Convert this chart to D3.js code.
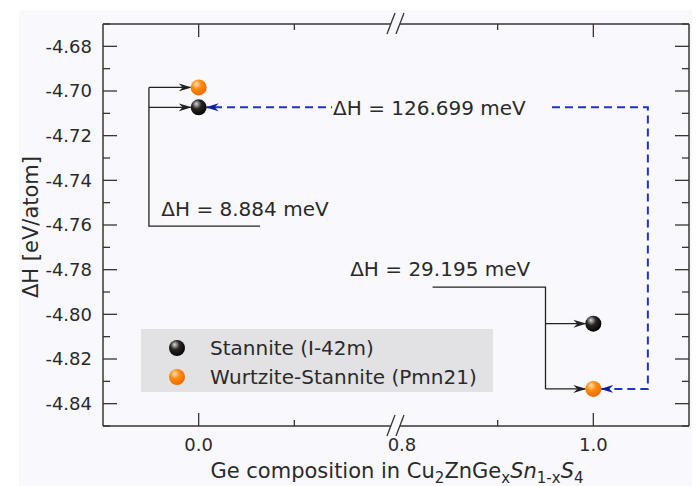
<!DOCTYPE html>
<html>
<head>
<script src="https://cdn.jsdelivr.net/npm/d3@7"></script>
<style>
  body { margin: 0; padding: 0; background: #fff; }
  svg { display: block; font-family: "DejaVu Sans", sans-serif; }
</style>
</head>
<body>
<div id="viz"></div>
<script>

// compositions and formation enthalpies (eV/atom)
var compositions = [0.0, 1.0];
var stannite = [-4.7073, -4.8042];
var wurtzite = [-4.6984, -4.8334];

var xTickLabels = [0.0, 0.8, 1.0];
var xMajor = [0.0, 1.0];
var xMinor = [0.1, 0.9];
var yMajor = [-4.84, -4.82, -4.80, -4.78, -4.76, -4.74, -4.72, -4.70, -4.68];
var yMinor = [-4.85, -4.83, -4.81, -4.79, -4.77, -4.75, -4.73, -4.71, -4.69, -4.67];

var legendNames = ["Stannite (I-42m)", "Wurtzite-Stannite (Pmn21)"];
var dH = ["8.884", "29.195", "126.699"];

var W = 698, H = 486;
// note: plain "top" clashes with window.top
var pL = 103, pR = 689, pT = 24, pB = 426;

// broken x axis: [-0.1, 0.2] // [0.8, 1.1]
var x = d3.scaleLinear().domain([-0.1, 0.2, 0.8, 1.1]).range([pL, 390, 402, pR]);
var y = d3.scaleLinear().domain([-4.85, -4.67]).range([pB, pT]);

var svg = d3.select('#viz').append('svg')
  .attr('width', W).attr('height', H);

var defs = svg.append('defs');

function sphere(id, c0, c1, c2) {
  var g = defs.append('radialGradient').attr('id', id)
    .attr('cx', '40%').attr('cy', '35%').attr('r', '65%').attr('fx', '35%').attr('fy', '28%');
  g.append('stop').attr('offset', '0%').attr('stop-color', c0);
  g.append('stop').attr('offset', '45%').attr('stop-color', c1);
  g.append('stop').attr('offset', '100%').attr('stop-color', c2);
}
sphere('gBlack', '#d8d8d8', '#2a2524', '#050404');
sphere('gOrange', '#ffe2b8', '#ff8c10', '#ec6a00');

function arrowHead(id, color) {
  defs.append('marker').attr('id', id)
    .attr('viewBox', '0 0 13 9').attr('refX', 12).attr('refY', 4.5)
    .attr('markerWidth', 13).attr('markerHeight', 9)
    .attr('markerUnits', 'userSpaceOnUse')
    .attr('orient', 'auto-start-reverse')
    .append('path').attr('d', 'M0,0.5 L13,4.5 L0,8.5 L4,4.5 Z').attr('fill', color);
}
arrowHead('aBlack', '#222');
arrowHead('aBlue', '#0b1fa0');

// panel background
svg.append('rect').attr('x', 19).attr('y', 10).attr('width', 673).attr('height', 476)
  .attr('fill', '#f9f9fd');

var axisColor = '#3a3434';

// frame with breaks
var gap = [391, 400];
[pT, pB].forEach(function(yy) {
  svg.append('line').attr('x1', pL).attr('x2', gap[0]).attr('y1', yy).attr('y2', yy)
    .attr('stroke', axisColor).attr('stroke-width', 1.5);
  svg.append('line').attr('x1', gap[1]).attr('x2', pR).attr('y1', yy).attr('y2', yy)
    .attr('stroke', axisColor).attr('stroke-width', 1.5);
  gap.forEach(function(gx) {
    svg.append('line').attr('x1', gx - 4).attr('y1', yy + 10).attr('x2', gx + 4).attr('y2', yy - 11)
      .attr('stroke', axisColor).attr('stroke-width', 1.3);
  });
});
[pL, pR].forEach(function(xx) {
  svg.append('line').attr('x1', xx).attr('x2', xx).attr('y1', pT).attr('y2', pB)
    .attr('stroke', axisColor).attr('stroke-width', 1.5);
});

// y ticks (inward both sides)
function yTicks(vals, len) {
  vals.forEach(function(v) {
    svg.append('line').attr('x1', pL).attr('x2', pL + len).attr('y1', y(v)).attr('y2', y(v))
      .attr('stroke', axisColor).attr('stroke-width', 1.3);
    svg.append('line').attr('x1', pR).attr('x2', pR - len).attr('y1', y(v)).attr('y2', y(v))
      .attr('stroke', axisColor).attr('stroke-width', 1.3);
  });
}
yTicks(yMajor, 14);
yTicks(yMinor, 7);

function xTicks(vals, len) {
  vals.forEach(function(v) {
    svg.append('line').attr('x1', x(v)).attr('x2', x(v)).attr('y1', pB).attr('y2', pB - len)
      .attr('stroke', axisColor).attr('stroke-width', 1.3);
    svg.append('line').attr('x1', x(v)).attr('x2', x(v)).attr('y1', pT).attr('y2', pT + len)
      .attr('stroke', axisColor).attr('stroke-width', 1.3);
  });
}
xTicks(xMajor, 13);
xTicks(xMinor, 6);

svg.selectAll('text.ylab').data(yMajor).enter().append('text')
  .attr('class', 'ylab')
  .attr('x', 92).attr('y', function(d) { return y(d); }).attr('dy', '0.36em')
  .attr('text-anchor', 'end').attr('font-size', 18).attr('fill', '#2a2a2a')
  .text(function(d) { return d.toFixed(2); });

svg.selectAll('text.xlab').data(xTickLabels).enter().append('text')
  .attr('class', 'xlab')
  .attr('x', function(d) { return x(d); }).attr('y', 451)
  .attr('text-anchor', 'middle').attr('font-size', 18).attr('fill', '#2a2a2a')
  .text(function(d) { return d.toFixed(1); });

// axis titles
svg.append('text')
  .attr('transform', 'translate(38,' + 227 + ') rotate(-90)')
  .attr('text-anchor', 'middle').attr('font-size', 21).attr('fill', '#2a2a2a')
  .text('\u0394H [eV/atom]');

var xt = svg.append('text').attr('x', 397).attr('y', 478)
  .attr('text-anchor', 'middle').attr('font-size', 21).attr('fill', '#2a2a2a');
xt.append('tspan').text('Ge composition in Cu');
xt.append('tspan').attr('font-size', 15).attr('dy', 5).text('2');
xt.append('tspan').attr('dy', -5).text('ZnGe');
xt.append('tspan').attr('font-size', 15).attr('dy', 5).text('x');
xt.append('tspan').attr('dy', -5).attr('font-style', 'italic').text('Sn');
xt.append('tspan').attr('font-size', 15).attr('dy', 5).text('1-x');
xt.append('tspan').attr('dy', -5).attr('font-style', 'italic').text('S');
xt.append('tspan').attr('font-size', 15).attr('dy', 5).text('4');

var ink = '#222';
var r = 8;

// left bracket: 8.884 meV at x = 0
var bx0 = x(-0.052);
svg.append('path')
  .attr('d', 'M' + x(0.064) + ',' + y(-4.7605) + 'H' + bx0 + 'V' + y(wurtzite[0]))
  .attr('fill', 'none').attr('stroke', ink).attr('stroke-width', 1.3);
[wurtzite[0], stannite[0]].forEach(function(v) {
  svg.append('line').attr('x1', bx0).attr('x2', x(0) - r).attr('y1', y(v)).attr('y2', y(v))
    .attr('stroke', ink).attr('stroke-width', 1.3).attr('marker-end', 'url(#aBlack)');
});
svg.append('text').attr('x', x(-0.039)).attr('y', y(-4.7560))
  .attr('font-size', 20).attr('fill', '#2a2a2a').text('\u0394H = ' + dH[0] + ' meV');

// right bracket: 29.195 meV at x = 1
var bx1 = x(0.95);
svg.append('path')
  .attr('d', 'M' + x(0.832) + ',' + y(-4.7878) + 'H' + bx1 + 'V' + y(wurtzite[1]))
  .attr('fill', 'none').attr('stroke', ink).attr('stroke-width', 1.3);
[stannite[1], wurtzite[1]].forEach(function(v) {
  svg.append('line').attr('x1', bx1).attr('x2', x(1) - r).attr('y1', y(v)).attr('y2', y(v))
    .attr('stroke', ink).attr('stroke-width', 1.3).attr('marker-end', 'url(#aBlack)');
});
svg.append('text').attr('x', x(0.934)).attr('y', y(-4.7828))
  .attr('text-anchor', 'end')
  .attr('font-size', 20).attr('fill', '#2a2a2a').text('\u0394H = ' + dH[1] + ' meV');

// blue dashed: 126.699 meV between stannite x=0 and wurtzite x=1
var bx2 = x(1.057);
svg.append('path')
  .attr('d', 'M' + (x(1) + r) + ',' + y(wurtzite[1]) + 'H' + bx2 + 'V' + y(stannite[0]) + 'H' + (x(0) + r))
  .attr('fill', 'none').attr('stroke', '#1f33c4').attr('stroke-width', 2)
  .attr('stroke-dasharray', '8,5')
  .attr('marker-start', 'url(#aBlue)').attr('marker-end', 'url(#aBlue)');
var t3 = svg.append('text').attr('x', x(0.1405)).attr('y', y(stannite[0])).attr('dy', '0.36em')
  .attr('font-size', 20).attr('fill', '#2a2a2a').text('\u0394H = ' + dH[2] + ' meV');
var bb = t3.node().getBBox();
svg.insert('rect', function() { return t3.node(); })
  .attr('x', bb.x - 1).attr('y', bb.y).attr('width', 548 - bb.x).attr('height', bb.height)
  .attr('fill', '#f9f9fd');

// data points
svg.selectAll('circle.st').data(compositions).enter().append('circle')
  .attr('class', 'st')
  .attr('cx', function(d) { return x(d); })
  .attr('cy', function(d, i) { return y(stannite[i]); })
  .attr('r', r).attr('fill', 'url(#gBlack)');
svg.selectAll('circle.wz').data(compositions).enter().append('circle')
  .attr('class', 'wz')
  .attr('cx', function(d) { return x(d); })
  .attr('cy', function(d, i) { return y(wurtzite[i]); })
  .attr('r', r).attr('fill', 'url(#gOrange)');

// legend
var lg = svg.append('g').attr('transform', 'translate(141,329)');
lg.append('rect').attr('width', 352).attr('height', 63).attr('fill', '#e2e2e4');
lg.selectAll('circle').data(legendNames).enter().append('circle')
  .attr('cx', 36).attr('cy', function(d, i) { return 19 + i * 29; })
  .attr('r', r).attr('fill', function(d, i) { return i ? 'url(#gOrange)' : 'url(#gBlack)'; });
lg.selectAll('text').data(legendNames).enter().append('text')
  .attr('x', 69).attr('y', function(d, i) { return 19 + i * 29; }).attr('dy', '0.36em')
  .attr('font-size', 20).attr('fill', '#2a2a2a')
  .text(function(d) { return d; });

</script>
</body>
</html>
